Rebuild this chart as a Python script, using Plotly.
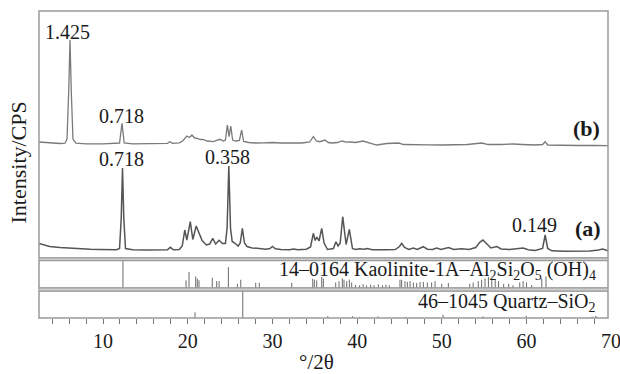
import plotly.graph_objects as go

# ---------------- data ----------------
# pattern (a): 2theta (deg) and intensity (CPS, arbitrary)
a_2theta = [2.44, 3.0, 3.7, 4.9, 6.0, 7.3, 8.5, 9.6, 10.8, 11.6, 11.95, 12.15, 12.3, 12.45, 12.65,
            13.5, 15.0, 16.5, 17.6, 17.95, 18.3, 19.0, 19.35, 19.65, 19.9, 20.3, 20.6, 21.0, 21.35,
            21.7, 22.2, 22.6, 22.95, 23.3, 23.7, 24.1, 24.45, 24.65, 24.85, 25.05, 25.25, 25.55,
            25.95, 26.2, 26.45, 26.7, 27.0, 27.6, 28.2, 28.5, 29.2, 29.7, 30.0, 30.35, 31.0, 32.0,
            32.5, 33.0, 34.0, 34.5, 34.83, 35.05, 35.25, 35.5, 35.82, 36.1, 36.5, 37.2, 37.5, 37.75,
            38.0, 38.3, 38.7, 39.08, 39.45, 39.8, 40.3, 40.8, 41.2, 41.8, 42.5, 43.5, 44.5, 45.0,
            45.26, 45.6, 46.1, 46.64, 47.1, 47.8, 48.3, 48.9, 49.4, 49.9, 50.8, 51.4, 52.35, 53.2,
            54.0, 54.5, 54.85, 55.3, 55.8, 56.5, 57.0, 58.0, 59.0, 59.6, 60.2, 61.0, 61.9, 62.2,
            62.5, 63.0, 64.5, 66.0, 67.5, 68.5, 69.0, 69.62]
a_int = [145, 130, 115, 105, 98, 92, 88, 85, 82, 82, 95, 400, 900, 400, 95,
         82, 80, 80, 82, 107, 83, 85, 120, 280, 180, 363, 185, 320, 255,
         175, 130, 140, 197, 140, 178, 145, 145, 300, 920, 300, 165, 150,
         120, 150, 297, 150, 115, 100, 97, 95, 88, 95, 115, 92, 85, 82,
         90, 82, 88, 110, 247, 175, 210, 170, 297, 150, 85, 95, 163, 120,
         150, 413, 135, 287, 95, 85, 92, 88, 95, 82, 80, 82, 85, 115,
         147, 105, 85, 100, 85, 113, 88, 85, 100, 85, 105, 85, 92, 85,
         105, 160, 180, 140, 100, 115, 90, 85, 90, 100, 83, 75, 95, 230,
         95, 72, 68, 68, 70, 80, 90, 72]

# pattern (b)
b_2theta = [2.44, 3.5, 4.9, 5.5, 5.75, 5.95, 6.1, 6.25, 6.45, 6.8, 8.0, 10.0, 11.5, 11.95, 12.24,
            12.5, 13.5, 15.0, 16.5, 17.6, 17.9, 18.2, 19.0, 19.4, 19.9, 20.2, 20.5, 20.8, 21.1,
            21.5, 21.8, 22.3, 23.0, 23.5, 23.8, 24.2, 24.45, 24.68, 24.88, 25.08, 25.3, 25.7,
            26.1, 26.37, 26.6, 27.2, 28.0, 29.0, 30.0, 31.0, 32.5, 33.5, 34.4, 34.83, 35.2, 35.6,
            36.2, 36.6, 37.0, 37.7, 38.2, 38.7, 39.2, 39.8, 40.7, 41.5, 42.3, 43.5, 44.9, 45.5,
            47.0, 48.5, 50.0, 51.5, 53.0, 54.7, 55.5, 57.0, 58.4, 59.5, 61.0, 61.9, 62.2, 62.5,
            64.0, 66.0, 68.0, 69.62]
b_int = [90, 82, 75, 78, 120, 600, 1110, 600, 120, 78, 72, 72, 73, 80, 277,
         80, 72, 72, 74, 76, 93, 76, 82, 100, 150, 135, 160, 130, 127,
         115, 117, 100, 93, 105, 117, 100, 110, 260, 143, 250, 110, 100,
         105, 210, 95, 85, 80, 82, 85, 80, 78, 80, 90, 143, 100, 93,
         110, 85, 80, 85, 100, 88, 90, 85, 100, 78, 60, 75, 80, 65,
         60, 62, 60, 62, 65, 80, 65, 65, 70, 65, 60, 65, 93, 60,
         55, 55, 55, 53]
B_OFFSET = 1070  # vertical stacking offset of pattern (b)

# reference card 14-0164 Kaolinite-1A (relative intensity, %)
kaol_2theta = [12.35, 19.8, 20.15, 20.94, 21.13, 21.33, 22.9, 23.42, 23.7, 24.8, 25.86, 26.26,
               28.03, 28.45, 32.28, 34.76, 34.95, 35.23, 35.82, 36.01, 37.47, 37.86, 38.25, 38.45,
               38.77, 39.08, 39.36, 39.8, 40.3, 40.7, 41.1, 41.6, 42.0, 42.5, 43.0, 43.4, 43.8,
               45.06, 45.26, 45.65, 45.93, 46.25, 46.64, 47.03, 47.43, 47.82, 48.29, 48.8, 49.2,
               49.99, 50.77, 53.3, 53.7, 54.3, 54.7, 55.1, 55.5, 55.9, 56.3, 56.7, 57.3, 57.9,
               58.4, 59.2, 59.6, 60.0, 60.6, 61.8, 62.3]
kaol_int = [100, 28, 58, 42, 34, 28, 37, 25, 25, 76, 15, 30,
            19, 19, 19, 33, 30, 28, 40, 34, 20, 25, 35, 30,
            25, 30, 20, 12, 10, 14, 10, 12, 10, 13, 10, 12, 10,
            30, 30, 25, 22, 25, 20, 18, 22, 22, 20, 20, 25,
            15, 18, 15, 20, 25, 30, 35, 40, 35, 30, 25, 15, 15,
            10, 20, 25, 20, 10, 35, 42]

# reference card 46-1045 Quartz (relative intensity, %)
qtz_2theta = [20.86, 26.5, 36.54, 39.47, 40.29, 42.45, 45.79, 50.14, 54.87, 59.96, 64.0, 67.74, 68.14, 68.3]
qtz_int = [21, 100, 7, 7, 4, 6, 4, 12, 6, 8, 2, 5, 7, 5]

x_ticks = [10, 20, 30, 40, 50, 60, 70]
x_ticktext = ["10", "20", "30", "40", "50", "60", "70"]

# ---------------- figure ----------------
FONT = "Liberation Serif"
TXT = "#1a1a1a"
FRAME = "#9a9a9a"
X_RANGE = [2.44, 69.62]

def sticks(xs, hs):
    X, Y = [], []
    for x, h in zip(xs, hs):
        X += [x, x, None]
        Y += [0, h, None]
    return X, Y

fig = go.Figure()
fig.add_trace(go.Scatter(x=a_2theta, y=a_int, mode="lines",
                         line=dict(color="#555555", width=1.5), xaxis="x", yaxis="y", showlegend=False))
fig.add_trace(go.Scatter(x=b_2theta, y=[v + B_OFFSET for v in b_int], mode="lines",
                         line=dict(color="#7a7a7a", width=1.3), xaxis="x", yaxis="y", showlegend=False))
kx, ky = sticks(kaol_2theta, kaol_int)
fig.add_trace(go.Scatter(x=kx, y=ky, mode="lines", line=dict(color="#6a6a6a", width=1),
                         xaxis="x", yaxis="y2", showlegend=False))
qx, qy = sticks(qtz_2theta, qtz_int)
fig.add_trace(go.Scatter(x=qx, y=qy, mode="lines", line=dict(color="#6a6a6a", width=1),
                         xaxis="x", yaxis="y3", showlegend=False))

D_MAIN = [0.1954, 1.0]
D_KAOL = [0.0977, 0.1873]
D_QTZ = [0.0, 0.0879]

in_range = [(v, t) for v, t in zip(x_ticks, x_ticktext) if X_RANGE[0] <= v <= X_RANGE[1]]
out_range = [(v, t) for v, t in zip(x_ticks, x_ticktext) if not (X_RANGE[0] <= v <= X_RANGE[1])]

fig.update_layout(
    width=620, height=374,
    margin=dict(l=39, r=12, t=11, b=56),
    paper_bgcolor="white", plot_bgcolor="white",
    font=dict(family=FONT, size=19, color=TXT),
    xaxis=dict(range=X_RANGE, anchor="y3", tickmode="array", tickvals=[v for v, _ in in_range],
               ticktext=[t for _, t in in_range], ticks="outside", ticklen=5, tickcolor="#777777",
               tickwidth=1, showgrid=False, zeroline=False, showline=False,
               minor=dict(tick0=0, dtick=2, ticks="outside", ticklen=5, tickcolor="#777777",
                          tickwidth=1, showgrid=False),
               tickfont=dict(family=FONT, size=20, color=TXT)),
    yaxis=dict(domain=D_MAIN, range=[0, 2470], visible=False, fixedrange=True),
    yaxis2=dict(domain=D_KAOL, range=[0, 100], visible=False),
    yaxis3=dict(domain=D_QTZ, range=[0, 100], visible=False),
)

shapes = []
for d in (D_MAIN, D_KAOL, D_QTZ):
    shapes.append(dict(type="rect", xref="paper", yref="paper", x0=0, x1=1, y0=d[0], y1=d[1],
                       line=dict(color=FRAME, width=1.5), fillcolor="rgba(0,0,0,0)", layer="above"))
for lo, hi in ((D_QTZ[1], D_KAOL[0]), (D_KAOL[1], D_MAIN[0])):
    shapes.append(dict(type="rect", xref="paper", yref="paper", x0=0, x1=1, y0=lo, y1=hi,
                       line=dict(color=FRAME, width=1), fillcolor="#cfcfcf", layer="above"))
fig.update_layout(shapes=shapes)

ann = []
def lab(text, x, y, yref="y", bold=False, xanchor="center", size=20):
    ann.append(dict(text=f"<b>{text}</b>" if bold else text, x=x, y=y, xref="x", yref=yref,
                    showarrow=False, xanchor=xanchor, yanchor="middle",
                    font=dict(family=FONT, size=size, color=TXT)))

lab("1.425", 5.75, 2260)
lab("0.718", 12.13, 1420)
lab("0.718", 12.13, 990)
lab("0.358", 24.64, 1010)
lab("0.149", 61.0, 330)
lab("(a)", 67.2, 300, bold=True, size=22)
lab("(b)", 67.05, 1300, bold=True, size=22)
lab("14–0164 Kaolinite-1A–Al<sub>2</sub>Si<sub>2</sub>O<sub>5</sub> (OH)<sub>4</sub>", 68.44, 62,
    yref="y2", xanchor="right", size=20)
lab("46–1045 Quartz–SiO<sub>2</sub>", 68.44, 59, yref="y3", xanchor="right", size=20)

# tick label lying just past the right end of the axis (shown at the frame edge in the reference)
for v, t in out_range:
    xp = (v - X_RANGE[0]) / (X_RANGE[1] - X_RANGE[0])
    ann.append(dict(text=t, x=xp, y=-0.075, xref="paper", yref="paper", showarrow=False,
                    xanchor="center", yanchor="middle", font=dict(family=FONT, size=20, color=TXT)))

ann.append(dict(text="Intensity/CPS", x=-0.036, y=0.505, xref="paper", yref="paper", textangle=-90,
                showarrow=False, xanchor="center", yanchor="middle",
                font=dict(family=FONT, size=22, color=TXT)))
ann.append(dict(text="°/2θ", x=0.487, y=-0.143, xref="paper", yref="paper",
                showarrow=False, xanchor="center", yanchor="middle",
                font=dict(family=FONT, size=21, color=TXT)))
fig.update_layout(annotations=ann)

fig.write_html("out.html")
